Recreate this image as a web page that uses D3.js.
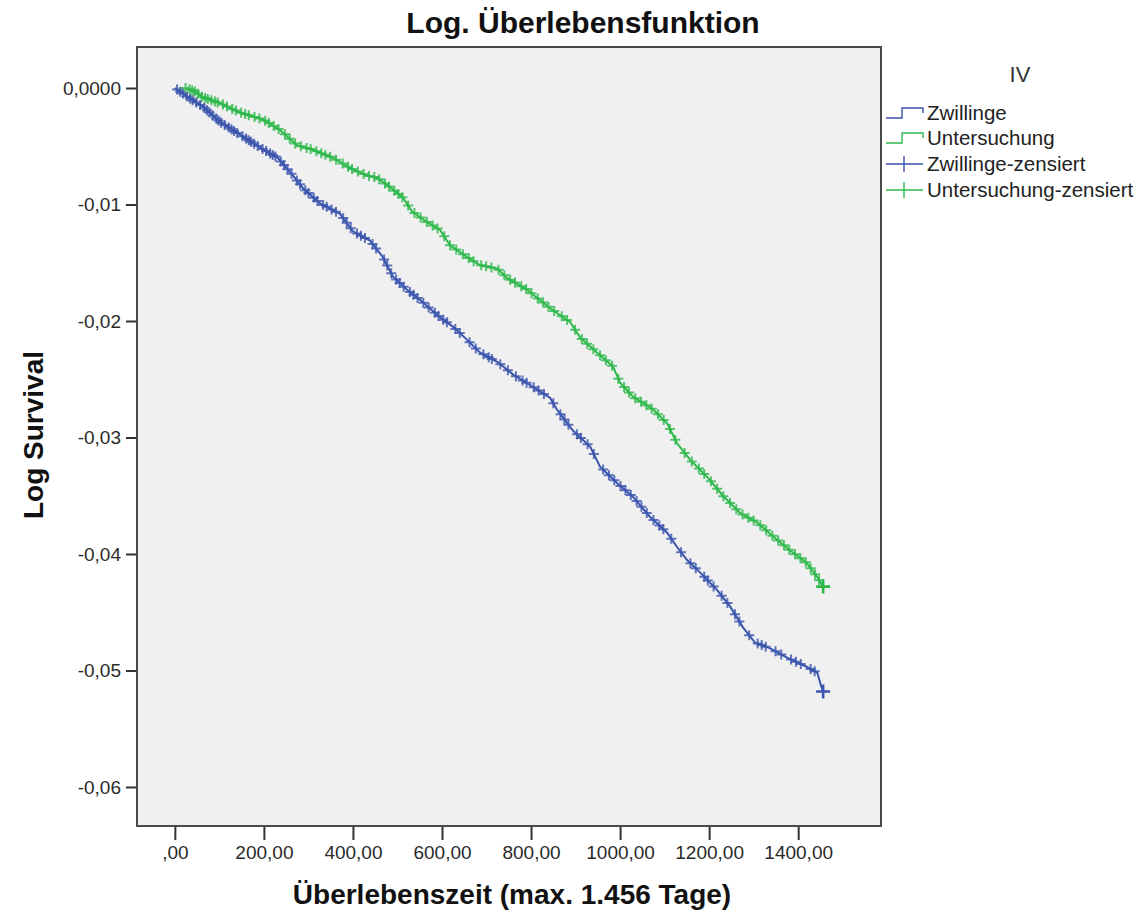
<!DOCTYPE html>
<html>
<head>
<meta charset="utf-8">
<script src="https://cdn.jsdelivr.net/npm/d3@7"></script>
<style>
  body { margin: 0; background: #fff; }
  text { font-family: Arial, "Liberation Sans", sans-serif; }
</style>
</head>
<body>
<script>
// days, log survival
var blueTime = [0, 30, 63, 101, 146, 191, 231, 265, 288, 326, 371, 400, 438, 467, 490, 521, 551, 596, 625, 656, 685, 724, 760, 798, 843, 858, 894, 933, 955, 993, 1029, 1067, 1106, 1128, 1150, 1180, 1218, 1247, 1276, 1303, 1337, 1375, 1420, 1443, 1452, 1456];
var blueLog = [0, -0.0008, -0.0016, -0.0029, -0.0040, -0.0051, -0.0060, -0.0075, -0.0086, -0.0099, -0.0108, -0.0123, -0.0131, -0.0145, -0.0162, -0.0173, -0.0182, -0.0197, -0.0205, -0.0216, -0.0227, -0.0235, -0.0246, -0.0255, -0.0266, -0.0276, -0.0294, -0.0308, -0.0325, -0.0339, -0.0351, -0.0368, -0.0382, -0.0394, -0.0405, -0.0416, -0.0431, -0.0445, -0.0463, -0.0476, -0.0481, -0.0489, -0.0497, -0.0502, -0.0514, -0.0518];
var greenTime = [27, 45, 63, 101, 146, 198, 236, 274, 310, 355, 400, 431, 454, 483, 512, 533, 566, 596, 618, 656, 685, 724, 746, 791, 813, 850, 888, 910, 948, 984, 1000, 1029, 1074, 1106, 1128, 1157, 1196, 1231, 1270, 1308, 1344, 1382, 1420, 1443, 1456];
var greenLog = [0, -0.0003, -0.0008, -0.0013, -0.0021, -0.0027, -0.0036, -0.0049, -0.0053, -0.0060, -0.0070, -0.0075, -0.0077, -0.0085, -0.0094, -0.0106, -0.0115, -0.0122, -0.0135, -0.0145, -0.0152, -0.0155, -0.0163, -0.0173, -0.0180, -0.0191, -0.0201, -0.0214, -0.0227, -0.0239, -0.0253, -0.0265, -0.0276, -0.0288, -0.0305, -0.0319, -0.0334, -0.0350, -0.0365, -0.0373, -0.0385, -0.0397, -0.0408, -0.0420, -0.0428];

var blueCensored = [5, 12, 18, 27, 34, 40, 48, 57, 66, 72, 78, 85, 93, 98, 104, 112, 121, 127, 133, 140, 152, 160, 166, 171, 178, 186, 197, 205, 214, 220, 226, 238, 245, 253, 262, 274, 281, 293, 300, 312, 320, 333, 341, 352, 362, 378, 386, 395, 409, 418, 427, 444, 452, 470, 477, 486, 497, 505, 514, 528, 536, 545, 558, 570, 584, 592, 603, 611, 630, 640, 662, 676, 693, 705, 712, 731, 748, 766, 781, 790, 806, 817, 829, 850, 866, 875, 884, 903, 912, 927, 941, 962, 975, 987, 1001, 1012, 1024, 1037, 1048, 1060, 1075, 1088, 1097, 1115, 1137, 1158, 1170, 1189, 1197, 1210, 1228, 1241, 1258, 1268, 1290, 1309, 1318, 1327, 1349, 1362, 1384, 1395, 1406, 1428, 1437];
var greenCensored = [24, 33, 39, 45, 52, 61, 68, 74, 82, 90, 96, 108, 117, 129, 137, 149, 158, 166, 179, 190, 203, 211, 222, 233, 247, 258, 270, 283, 296, 305, 318, 329, 338, 349, 362, 377, 389, 398, 411, 424, 436, 448, 459, 472, 481, 493, 502, 511, 524, 538, 552, 566, 579, 590, 605, 618, 632, 647, 660, 671, 688, 699, 711, 727, 740, 753, 764, 778, 789, 801, 815, 827, 839, 852, 869, 881, 899, 914, 926, 940, 955, 968, 982, 996, 1009, 1020, 1034, 1047, 1059, 1071, 1085, 1098, 1112, 1124, 1145, 1161, 1177, 1189, 1204, 1218, 1232, 1247, 1261, 1275, 1288, 1300, 1315, 1328, 1342, 1355, 1368, 1380, 1393, 1405, 1417, 1428, 1438, 1447];
var blueLast = 1456;
var greenLast = 1456;

var xTicks = [0, 200, 400, 600, 800, 1000, 1200, 1400];
var xTickLabels = [",00", "200,00", "400,00", "600,00", "800,00", "1000,00", "1200,00", "1400,00"];
var yTicks = [0, -0.01, -0.02, -0.03, -0.04, -0.05, -0.06];
var yTickLabels = ["0,0000", "-0,01", "-0,02", "-0,03", "-0,04", "-0,05", "-0,06"];

var groups = ["Zwillinge", "Untersuchung"];
var colors = ["#3a54ad", "#2db84b"];

function main() {
    var left = 137, right = 881, top = 47, bottom = 826;

    var svg = d3.select("body")
      .append("svg")
      .attr("width", 1144)
      .attr("height", 914);

    var x = d3.scaleLinear().domain([-85, 1586]).range([left, right]);
    var y = d3.scaleLinear().domain([0.00352, -0.06335]).range([top, bottom]);

    svg.append("rect")
      .attr("x", left).attr("y", top)
      .attr("width", right - left).attr("height", bottom - top)
      .attr("fill", "#f0f0f0")
      .attr("stroke", "#4a4a4a")
      .attr("stroke-width", 2);

    // axes
    var yAxis = d3.axisLeft(y)
      .tickValues(yTicks)
      .tickSize(10)
      .tickPadding(5)
      .tickFormat(function (d, i) { return yTickLabels[i]; });
    var gy = svg.append("g").attr("transform", "translate(" + (left - 1) + ",0)").call(yAxis);

    var xAxis = d3.axisBottom(x)
      .tickValues(xTicks)
      .tickSize(13)
      .tickPadding(6)
      .tickFormat(function (d, i) { return xTickLabels[i]; });
    var gx = svg.append("g").attr("transform", "translate(0," + (bottom + 1) + ")").call(xAxis);

    [gx, gy].forEach(function (g) {
        g.select(".domain").remove();
        g.selectAll(".tick line").attr("stroke", "#333").attr("stroke-width", 2);
        g.selectAll(".tick text")
          .attr("fill", "#2a2a2a")
          .style("font-size", "19px");
    });

    // curves
    var line = d3.line()
      .x(function (d) { return x(d[0]); })
      .y(function (d) { return y(d[1]); });

    var series = [
        { times: blueTime, logs: blueLog, cens: blueCensored, last: blueLast },
        { times: greenTime, logs: greenLog, cens: greenCensored, last: greenLast }
    ];

    series.forEach(function (s, k) {
        var pts = s.times.map(function (t, i) { return [t, s.logs[i]]; });
        var at = function (t) {
            var i = d3.bisectRight(s.times, t);
            if (i <= 0) return s.logs[0];
            if (i >= s.times.length) return s.logs[s.logs.length - 1];
            var t0 = s.times[i - 1], t1 = s.times[i];
            return s.logs[i - 1] + (s.logs[i] - s.logs[i - 1]) * (t - t0) / (t1 - t0);
        };

        svg.append("path")
          .attr("d", line(pts))
          .attr("fill", "none")
          .attr("stroke", colors[k])
          .attr("stroke-width", 2);

        var g = svg.append("g")
          .attr("stroke", colors[k])
          .attr("stroke-opacity", 0.8)
          .attr("stroke-width", 2);

        g.selectAll("path.cens")
          .data(s.cens)
          .enter()
          .append("path")
          .attr("class", "cens")
          .attr("d", function (t) {
              var cx = x(t), cy = y(at(t)), r = 5;
              return "M" + (cx - r) + "," + cy + "H" + (cx + r) +
                     "M" + cx + "," + (cy - r) + "V" + (cy + r);
          });

        var lx = x(s.last), ly = y(at(s.last)), R = 7;
        svg.append("path")
          .attr("d", "M" + (lx - R) + "," + ly + "H" + (lx + R) + "M" + lx + "," + (ly - R) + "V" + (ly + R))
          .attr("stroke", colors[k])
          .attr("stroke-width", 2.6);
    });

    // titles
    svg.append("text")
      .attr("x", 583).attr("y", 33)
      .attr("text-anchor", "middle")
      .style("font-size", "30px")
      .style("font-weight", "bold")
      .attr("fill", "#111")
      .text("Log. Überlebensfunktion");

    svg.append("text")
      .attr("transform", "translate(43,435) rotate(-90)")
      .attr("text-anchor", "middle")
      .style("font-size", "28px")
      .style("font-weight", "bold")
      .attr("fill", "#111")
      .text("Log Survival");

    svg.append("text")
      .attr("x", 512).attr("y", 904)
      .attr("text-anchor", "middle")
      .style("font-size", "28px")
      .style("font-weight", "bold")
      .attr("fill", "#111")
      .text("Überlebenszeit (max. 1.456 Tage)");

    // legend
    svg.append("text")
      .attr("x", 1020).attr("y", 82)
      .attr("text-anchor", "middle")
      .style("font-size", "22px")
      .attr("fill", "#333")
      .text("IV");

    var legendRows = [
        { label: "Zwillinge", color: colors[0], step: true },
        { label: "Untersuchung", color: colors[1], step: true },
        { label: "Zwillinge-zensiert", color: colors[0], step: false },
        { label: "Untersuchung-zensiert", color: colors[1], step: false }
    ];
    var rowY = [113, 138, 164, 190];

    var lg = svg.selectAll("g.leg")
      .data(legendRows)
      .enter()
      .append("g")
      .attr("class", "leg")
      .attr("transform", function (d, i) { return "translate(886," + rowY[i] + ")"; });

    lg.append("path")
      .attr("d", function (d) {
          if (d.step) return "M0,5H16V-5H37V0";
          return "M0,0H37M18,-8V8";
      })
      .attr("fill", "none")
      .attr("stroke", function (d) { return d.color; })
      .attr("stroke-width", 1.4);

    lg.append("text")
      .attr("x", 41).attr("y", 7)
      .style("font-size", "20.5px")
      .attr("fill", "#222")
      .text(function (d) { return d.label; });
}

main();
</script>
</body>
</html>
